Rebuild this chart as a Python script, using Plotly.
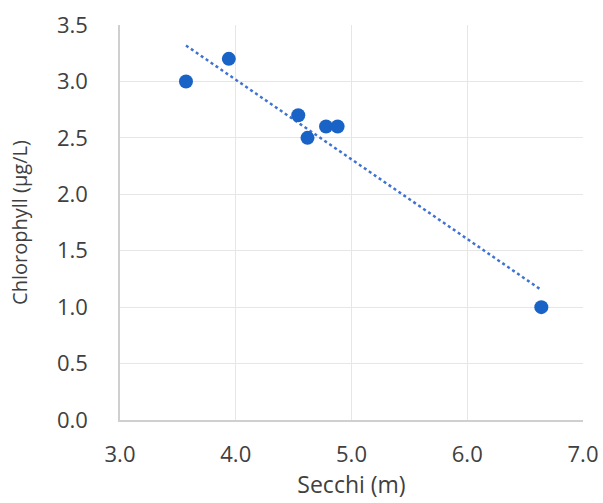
import numpy as np
import plotly.graph_objects as go

# Secchi depth (m) and chlorophyll (µg/L) observations
secchi = [3.57, 3.94, 4.54, 4.62, 4.78, 4.88, 6.64]
chlorophyll = [3.0, 3.2, 2.7, 2.5, 2.6, 2.6, 1.0]

x_ticks = [3.0, 4.0, 5.0, 6.0, 7.0]
y_ticks = [0.0, 0.5, 1.0, 1.5, 2.0, 2.5, 3.0, 3.5]

# Linear trendline fitted over the observed range
slope, intercept = np.polyfit(secchi, chlorophyll, 1)
trend_x = [min(secchi), max(secchi)]
trend_y = [slope * v + intercept for v in trend_x]

text_color = "#404040"
grid_color = "#e6e6e6"

fig = go.Figure()
fig.add_trace(go.Scatter(
    x=trend_x, y=trend_y, mode="lines",
    line=dict(color="#3f72d2", width=2.5, dash="dot"),
    hoverinfo="skip", showlegend=False,
))
fig.add_trace(go.Scatter(
    x=secchi, y=chlorophyll, mode="markers",
    marker=dict(color="#1a63c6", size=14),
    showlegend=False,
))

fig.update_layout(
    width=603, height=503,
    margin=dict(l=120, r=20, t=25, b=83),
    paper_bgcolor="white", plot_bgcolor="white",
    font=dict(family="Open Sans, Liberation Sans, sans-serif", color=text_color),
)
fig.update_xaxes(
    range=[3.0, 7.0], tickvals=x_ticks,
    ticktext=[f"{v:.1f}" for v in x_ticks],
    tickfont=dict(size=22, color=text_color),
    ticklabelstandoff=14,
    showgrid=True, gridcolor=grid_color, gridwidth=1,
    showline=True, linecolor="#cfcfcf", linewidth=1.5,
    zeroline=False, ticks="", automargin=False,
    title=dict(text="Secchi (m)", font=dict(size=23, color=text_color), standoff=4),
)
fig.update_yaxes(
    range=[0.0, 3.5], tickvals=y_ticks,
    ticktext=[f"{v:.1f}" for v in y_ticks],
    tickfont=dict(size=22, color=text_color),
    ticklabelstandoff=26,
    showgrid=True, gridcolor=grid_color, gridwidth=1,
    showline=True, linecolor="#cfcfcf", linewidth=1.5,
    zeroline=False, ticks="", automargin=False,
    title=dict(text="Chlorophyll (µg/L)", font=dict(size=20, color=text_color), standoff=24),
)

fig.write_html("out.html")
